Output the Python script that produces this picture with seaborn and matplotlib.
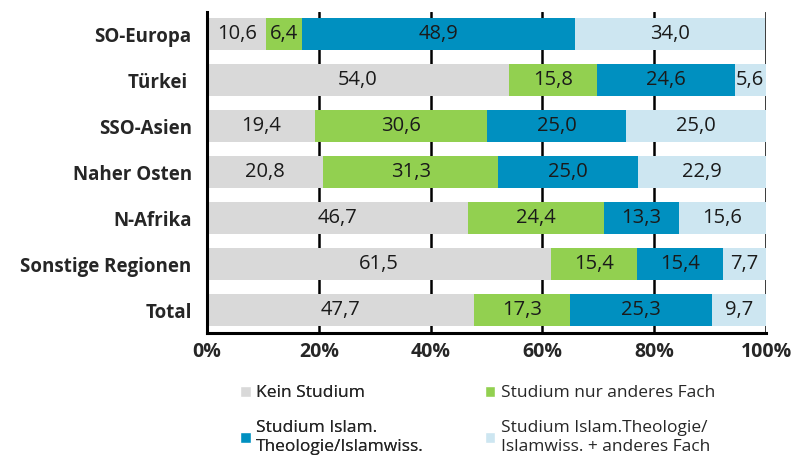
import matplotlib
matplotlib.use("Agg")
import matplotlib.pyplot as plt
from matplotlib.patches import Patch
import numpy as np
import pandas as pd
import seaborn as sns

# Data
regions = ["SO-Europa", "Türkei ", "SSO-Asien", "Naher Osten", "N-Afrika",
           "Sonstige Regionen", "Total"]
kein_studium = [10.6, 54.0, 19.4, 20.8, 46.7, 61.5, 47.7]
nur_anderes = [6.4, 15.8, 30.6, 31.3, 24.4, 15.4, 17.3]
islam_theologie = [48.9, 24.6, 25.0, 25.0, 13.3, 15.4, 25.3]
islam_plus_anderes = [34.0, 5.6, 25.0, 22.9, 15.6, 7.7, 9.7]
series_names = ["Kein Studium", "Studium nur anderes Fach",
                "Studium Islam.\nTheologie/Islamwiss.",
                "Studium Islam.Theologie/\nIslamwiss. + anderes Fach"]
colors = ["#d9d9d9", "#92d050", "#0090c0", "#cde6f1"]

sns.set_style("white")
plt.rcParams["font.family"] = ["Open Sans", "DejaVu Sans"]

series = [kein_studium, nur_anderes, islam_theologie, islam_plus_anderes]
cum = np.cumsum(np.array(series), axis=0)

fig = plt.figure(figsize=(7.91, 4.57), dpi=100)
ax = fig.add_axes([0.2617, 0.2713, 0.7067, 0.7024])

# grid behind bars
for xv in [20, 40, 60, 80, 100]:
    ax.axvline(xv, color="black", lw=1.8, zorder=0)

# stacked bars: draw cumulative totals from back to front
for i in range(3, -1, -1):
    df = pd.DataFrame({"region": regions, "value": cum[i]})
    sns.barplot(data=df, x="value", y="region", orient="h", color=colors[i],
                saturation=1, width=0.68, ax=ax, zorder=2, edgecolor="none")

# value labels
for i, vals in enumerate(series):
    starts = cum[i] - np.array(vals)
    for j, v in enumerate(vals):
        ax.text(starts[j] + v / 2, j, f"{v:.1f}".replace(".", ","),
                ha="center", va="center", fontsize=14.5, color="#1a1a1a", zorder=3)

ax.set_xlim(0, 100)
ax.set_ylim(6.5, -0.48)
ax.set_xticks([0, 20, 40, 60, 80, 100])
ax.set_xticklabels(["0%", "20%", "40%", "60%", "80%", "100%"],
                   fontweight="bold", fontsize=14)
ax.set_yticks(range(len(regions)))
ax.set_yticklabels(regions, fontweight="bold", fontsize=13.5)
ax.set_xlabel("")
ax.set_ylabel("")
for s in ["top", "right"]:
    ax.spines[s].set_visible(False)
for s in ["left", "bottom"]:
    ax.spines[s].set_color("black")
    ax.spines[s].set_linewidth(2.2)
    ax.spines[s].set_zorder(4)
ax.tick_params(axis="x", direction="inout", length=7, width=1.8, pad=3)
ax.tick_params(axis="y", length=0, pad=11)

# legend: one column per fig.legend so rows line up like the reference
leg_kw = dict(frameon=False, fontsize=12.5, handlelength=0.6, handleheight=0.6,
              handletextpad=0.3, labelspacing=1.1, borderaxespad=0, borderpad=0)
leg1 = fig.legend([Patch(facecolor=colors[0]), Patch(facecolor=colors[2])],
                  [series_names[0], series_names[2]], loc="upper left",
                  bbox_to_anchor=(0.304, 0.157), **leg_kw)
fig.add_artist(leg1)
fig.legend([Patch(facecolor=colors[1]), Patch(facecolor=colors[3])],
           [series_names[1], series_names[3]], loc="upper left",
           bbox_to_anchor=(0.613, 0.157), **leg_kw)

fig.savefig("out.png", dpi=100)
